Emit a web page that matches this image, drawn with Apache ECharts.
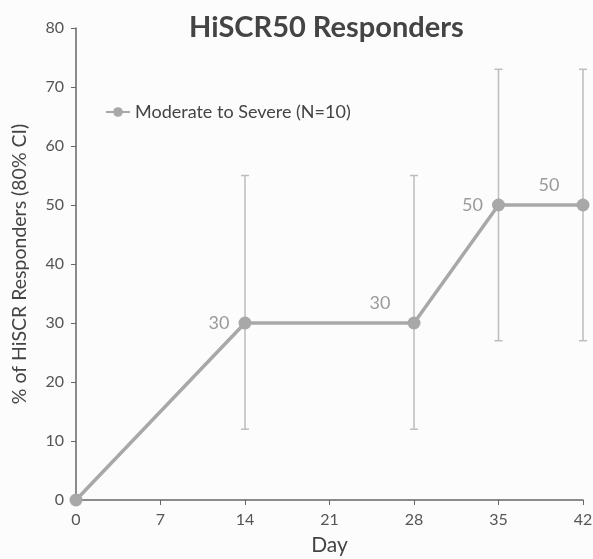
<!DOCTYPE html>
<html>
<head>
<meta charset="utf-8">
<script src="https://cdn.jsdelivr.net/npm/echarts@6/dist/echarts.min.js"></script>
<style>
html,body{margin:0;padding:0;background:#fcfcfc;}
#main{width:593px;height:559px;}
</style>
</head>
<body>
<div id="main"></div>
<script>
// data
var days = [0, 14, 28, 35, 42];
var responders = [0, 30, 30, 50, 50];
var ciLow = [null, 12, 12, 27, 27];
var ciHigh = [null, 55, 55, 73, 73];
var xTicks = [0, 7, 14, 21, 28, 35, 42];
var seriesName = 'Moderate to Severe (N=10)';
// where the value label sits: 'left' or 'above' (up and to the left)
var labelPlace = ['none', 'left', 'above', 'left', 'above'];

var lineData = [];
var errData = [];
for (var i = 0; i < days.length; i++) {
    var lbl = {show: false};
    if (labelPlace[i] == 'left') {
        lbl = {show: true, position: 'left', distance: 9};
    } else if (labelPlace[i] == 'above') {
        lbl = {show: true, position: 'left', distance: 9, offset: [-8, -20]};
    }
    lineData.push({value: [days[i], responders[i]], label: lbl});
    if (ciLow[i] != null) {
        errData.push([days[i], ciLow[i], ciHigh[i]]);
    }
}

var chart = echarts.init(document.getElementById('main'));
chart.setOption({
    backgroundColor: '#fcfcfc',
    textStyle: {fontFamily: 'Lato'},
    title: {
        text: 'HiSCR50 Responders',
        left: 184,
        top: 8,
        textStyle: {fontSize: 29, fontWeight: 'bold', color: '#444', fontFamily: 'Lato'}
    },
    legend: {
        data: [seriesName],
        left: 100,
        top: 98,
        itemWidth: 24,
        itemHeight: 12,
        itemGap: 6,
        textStyle: {fontSize: 18, color: '#444', fontFamily: 'Lato'}
    },
    grid: {left: 76, right: 10, top: 28, bottom: 59, outerBoundsMode: 'none', containLabel: false},
    xAxis: {
        type: 'value',
        min: 0,
        max: 42,
        interval: 7,
        name: 'Day',
        nameLocation: 'middle',
        nameGap: 35,
        nameTextStyle: {fontSize: 21, color: '#444'},
        axisLine: {lineStyle: {color: '#666', width: 1.5}},
        axisTick: {show: true, length: 5, lineStyle: {color: '#666'}},
        axisLabel: {fontSize: 16, color: '#555', margin: 12,
            formatter: function (v) { return xTicks.indexOf(v) >= 0 ? String(v) : ''; }},
        splitLine: {show: false}
    },
    yAxis: {
        type: 'value',
        min: 0,
        max: 80,
        interval: 10,
        name: '% of HiSCR Responders (80% CI)',
        nameLocation: 'middle',
        nameGap: 46,
        nameTextStyle: {fontSize: 19.5, color: '#444'},
        axisLine: {show: true, lineStyle: {color: '#666', width: 1.5}},
        axisTick: {show: true, length: 5, lineStyle: {color: '#666'}},
        axisLabel: {fontSize: 16, color: '#555', margin: 12},
        splitLine: {show: false}
    },
    series: [
        {
            name: 'ci',
            type: 'custom',
            silent: true,
            z: 1,
            data: errData,
            renderItem: function (params, api) {
                var x = api.value(0);
                var lo = api.coord([x, api.value(1)]);
                var hi = api.coord([x, api.value(2)]);
                var cap = 4;
                var st = {stroke: '#bdbdbd', lineWidth: 1.5};
                return {
                    type: 'group',
                    children: [
                        {type: 'line', shape: {x1: lo[0], y1: lo[1], x2: hi[0], y2: hi[1]}, style: st},
                        {type: 'line', shape: {x1: lo[0] - cap, y1: lo[1], x2: lo[0] + cap, y2: lo[1]}, style: st},
                        {type: 'line', shape: {x1: hi[0] - cap, y1: hi[1], x2: hi[0] + cap, y2: hi[1]}, style: st}
                    ]
                };
            }
        },
        {
            name: seriesName,
            type: 'line',
            z: 3,
            data: lineData,
            symbol: 'circle',
            symbolSize: 13,
            itemStyle: {color: '#a8a8a8'},
            lineStyle: {color: '#a8a8a8', width: 3.5},
            label: {fontSize: 18, color: '#9a9a9a'}
        }
    ]
});
</script>
</body>
</html>
